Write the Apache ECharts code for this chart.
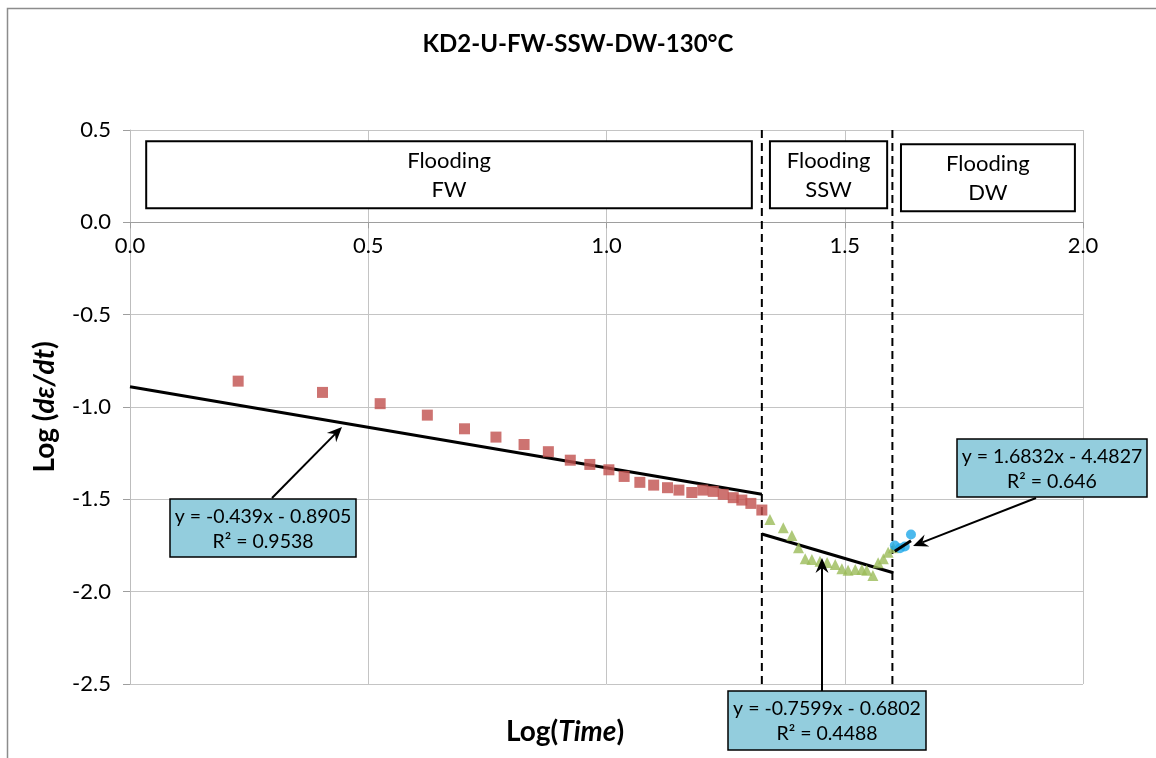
<!DOCTYPE html>
<html><head><meta charset="utf-8">
<script src="https://cdn.jsdelivr.net/npm/echarts@6/dist/echarts.min.js"></script>
<style>html,body{margin:0;padding:0;background:#fff}#c{width:1156px;height:758px}</style>
</head><body><div id="c"></div><script>
// ---- data ----
const fwX = [0.227,0.404,0.525,0.624,0.702,0.768,0.827,0.878,0.924,0.965,1.005,1.037,1.070,1.099,1.128,1.152,1.179,1.202,1.224,1.245,1.266,1.284,1.303,1.326];
const fwY = [-0.860,-0.921,-0.982,-1.044,-1.118,-1.163,-1.203,-1.242,-1.288,-1.311,-1.340,-1.376,-1.408,-1.423,-1.437,-1.450,-1.463,-1.450,-1.457,-1.473,-1.491,-1.504,-1.522,-1.558];
const sswX = [1.343,1.371,1.389,1.403,1.417,1.431,1.448,1.463,1.480,1.494,1.507,1.522,1.536,1.546,1.559,1.570,1.581,1.591,1.602];
const sswY = [-1.609,-1.654,-1.696,-1.762,-1.822,-1.826,-1.835,-1.842,-1.853,-1.876,-1.884,-1.880,-1.880,-1.884,-1.912,-1.843,-1.822,-1.786,-1.762];
const dwX = [1.605,1.616,1.626,1.639];
const dwY = [-1.750,-1.765,-1.755,-1.690];
const fwTrendX = [0, 1.326],  fwTrendY = [-0.8905, -1.4726];
const sswTrendX = [1.326, 1.602], sswTrendY = [-1.6878, -1.8976];
const dwTrendX = [1.605, 1.639], dwTrendY = [-1.7812, -1.7240];
const boundaryX = [1.326, 1.600];
const xTicks = ['0.0','0.5','1.0','1.5','2.0'];
const yTicks = ['-2.5','-2.0','-1.5','-1.0','-0.5','0.0','0.5'];
const regionLabels = ['Flooding\nFW','Flooding\nSSW','Flooding\nDW'];
const calloutTexts = [['y = -0.439x - 0.8905','R² = 0.9538'],['y = -0.7599x - 0.6802','R² = 0.4488'],['y = 1.6832x - 4.4827','R² = 0.646']];
const title = 'KD2-U-FW-SSW-DW-130°C';

const FONT = "Lato, 'Open Sans', sans-serif";
const zip = (a,b)=>a.map((v,i)=>[v,b[i]]);

const W = 1156, H = 758, GL = 130, GR = 73, GT = 130, GB = 74;
const plotH = H - GT - GB;
const yMin = -2.5, yMax = 0.5;
const zeroOffset = -plotH * (0 - yMin) / (yMax - yMin);

const chart = echarts.init(document.getElementById('c'), null, {width:W, height:H, renderer:'canvas'});

const lineSeries = (xs, ys, extra) => Object.assign({
  type:'line', data: zip(xs, ys), symbol:'none', silent:true,
  lineStyle:{color:'#000', width:3}, z:3
}, extra||{});

const option = {
  backgroundColor:'#fff',
  animation:false,
  title:{text:title, left:'center', top:27, textStyle:{fontFamily:FONT, fontSize:24, fontWeight:'bold', color:'#000'}},
  grid:{left:GL, right:GR, top:GT, bottom:GB, containLabel:false},
  xAxis:{type:'value', min:0, max:2, interval:0.5, position:'bottom', offset:zeroOffset,
    axisLine:{show:true, onZero:false, lineStyle:{color:'#9E9E9E', width:1}},
    axisTick:{show:true, inside:false, length:6, lineStyle:{color:'#9E9E9E'}},
    axisLabel:{color:'#000', fontFamily:FONT, fontSize:22, margin:13,
      formatter:(v)=>xTicks[Math.round(v/0.5)]},
    splitLine:{show:true, lineStyle:{color:'#C4C4C4', width:1}}},
  yAxis:{type:'value', min:yMin, max:yMax, interval:0.5,
    axisLine:{show:true, onZero:false, lineStyle:{color:'#BDBDBD', width:1}},
    axisTick:{show:true, inside:false, length:7, lineStyle:{color:'#9E9E9E'}},
    axisLabel:{color:'#000', fontFamily:FONT, fontSize:22, margin:19,
      formatter:(v)=>yTicks[Math.round((v+2.5)/0.5)]},
    splitLine:{show:true, lineStyle:{color:'#C4C4C4', width:1}}},
  series:[
    {type:'scatter', name:'FW', data:zip(fwX,fwY), symbol:'rect', symbolSize:11, itemStyle:{color:'#C0504D'}, z:4,
      markArea:{silent:true, itemStyle:{color:'#fff', borderColor:'#000', borderWidth:2},
        label:{show:true, position:'inside', color:'#000', fontFamily:FONT, fontSize:22, lineHeight:29, offset:[0,1]},
        data:[
          [{name:regionLabels[0], coord:[0.034,0.439]},{coord:[1.305,0.076]}],
          [{name:regionLabels[1], coord:[1.343,0.439]},{coord:[1.589,0.076]}],
          [{name:regionLabels[2], coord:[1.618,0.423]},{coord:[1.983,0.060]}]
        ]}},
    {type:'scatter', name:'SSW', data:zip(sswX,sswY), symbol:'triangle', symbolSize:11, itemStyle:{color:'#9BBB59'}, z:4},
    {type:'scatter', name:'DW', data:zip(dwX,dwY), symbol:'circle', symbolSize:10, itemStyle:{color:'#1EA7E8'}, z:4},
    lineSeries(fwTrendX, fwTrendY),
    lineSeries(sswTrendX, sswTrendY),
    lineSeries(dwTrendX, dwTrendY, {z:5}),
    lineSeries([boundaryX[0],boundaryX[0]],[yMax,yMin],{lineStyle:{color:'#000', width:2, type:[8,5]}}),
    lineSeries([boundaryX[1],boundaryX[1]],[yMax,yMin],{lineStyle:{color:'#000', width:2, type:[8,5]}})
  ]
};
chart.setOption(option);

// ---- annotations: callouts with arrows, axis titles, border ----
function arrow(x1,y1,x2,y2){
  const dx=x2-x1, dy=y2-y1, L=Math.hypot(dx,dy), ux=dx/L, uy=dy/L, px=-uy, py=ux;
  const hl=15, hw=6.5, notch=5;
  const bx=x2-ux*hl, by=y2-uy*hl;
  const nx=x2-ux*(hl-notch), ny=y2-uy*(hl-notch);
  return [
    {type:'line', shape:{x1:x1,y1:y1,x2:nx,y2:ny}, style:{stroke:'#000', lineWidth:2}, z:20},
    {type:'polygon', shape:{points:[[x2,y2],[bx+px*hw,by+py*hw],[nx,ny],[bx-px*hw,by-py*hw]]}, style:{fill:'#000'}, z:20}
  ];
}
function callout(x,y,w,h,lines){
  return [
    {type:'rect', shape:{x:x,y:y,width:w,height:h}, style:{fill:'#93CDDD', stroke:'#000', lineWidth:1.5}, z:21},
    {type:'text', x:x+w/2, y:y+h/2+1, z:22, style:{text:lines.join('\n'), align:'center', verticalAlign:'middle', fontFamily:FONT, fontSize:19.5, lineHeight:25, fill:'#000'}}
  ];
}
const titleRich = {b:{fontFamily:FONT, fontSize:28, fontWeight:'bold', fill:'#000', color:'#000'}, bi:{fontFamily:FONT, fontSize:28, fontWeight:'bold', fontStyle:'italic', fill:'#000', color:'#000'}};
const els = [];
els.push({type:'rect', shape:{x:7.5,y:8.5,width:1170,height:780}, style:{fill:'none', stroke:'#8C8C8C', lineWidth:1.5}, z:0, silent:true});
els.push(...arrow(272,498,342,427));
els.push(...arrow(822,691,822,558));
els.push(...arrow(1036,498,913,546));
els.push(...callout(170,499,186,58,calloutTexts[0]));
els.push(...callout(728,691,198,59,calloutTexts[1]));
els.push(...callout(957,439,190,58,calloutTexts[2]));
els.push({type:'text', x:565, y:732, z:10, style:{text:'{b|Log(}{bi|Time}{b|)}', align:'center', verticalAlign:'middle', rich:titleRich}});
els.push({type:'text', x:45, y:407, rotation:Math.PI/2, z:10, style:{text:'{b|Log (}{bi|dε/dt}{b|)}', align:'center', verticalAlign:'middle', rich:titleRich}});
chart.setOption({graphic:{elements:els}});
</script></body></html>
